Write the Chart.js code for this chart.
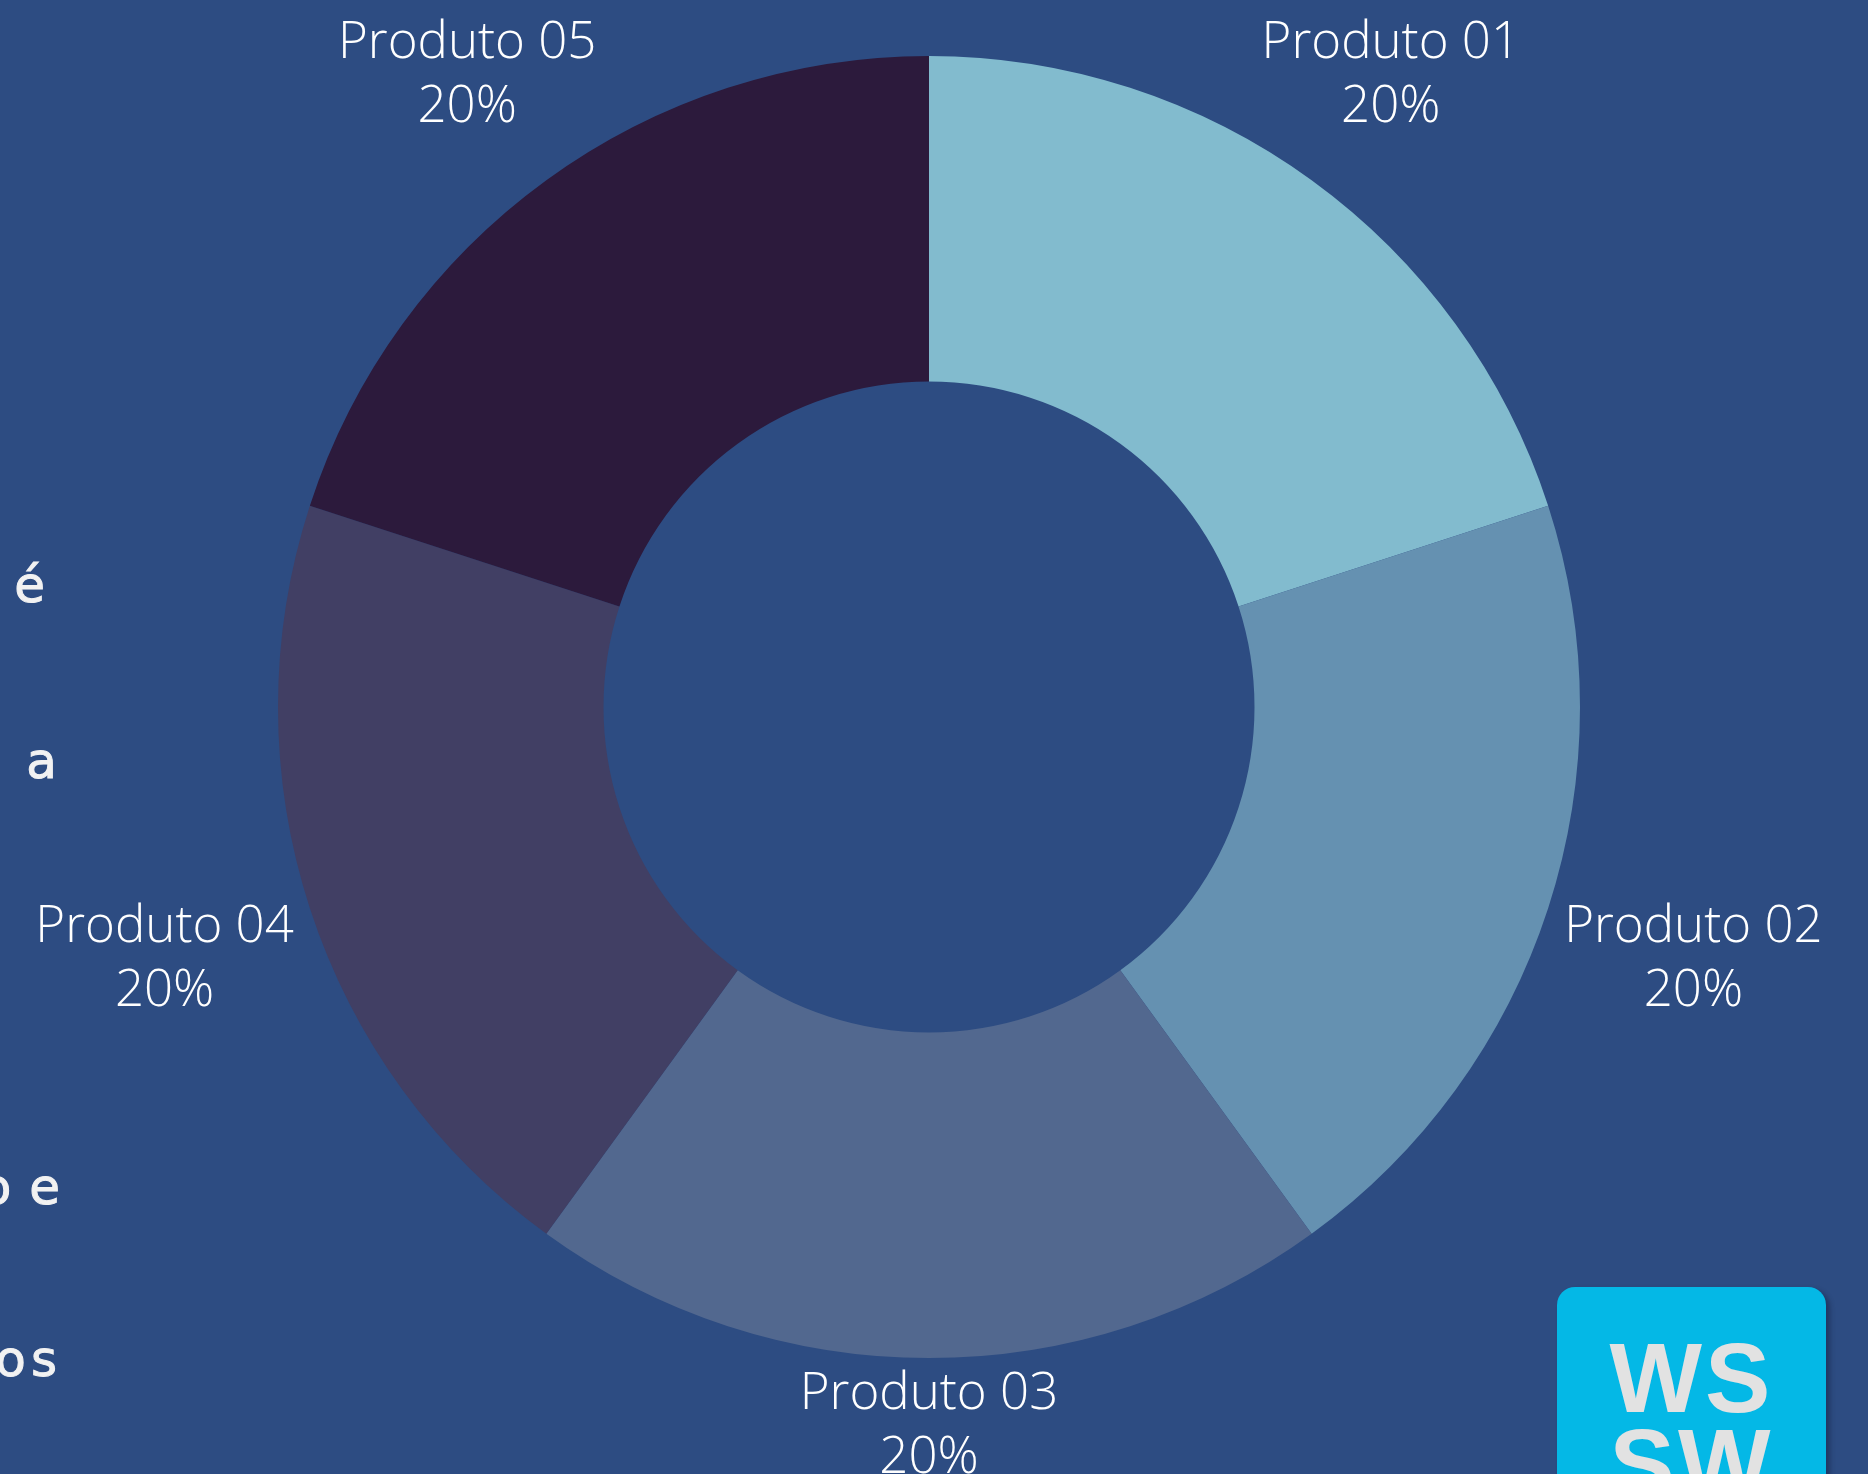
<!DOCTYPE html>
<html>
<head>
<meta charset="utf-8">
<script src="https://cdn.jsdelivr.net/npm/chart.js@4.4.0/dist/chart.umd.min.js"></script>
<style>
  html, body { margin: 0; padding: 0; background: #2d4c82; overflow: hidden; }
  #wrap { position: relative; width: 1868px; height: 1474px; overflow: hidden; }
  #grafico { position: absolute; left: 0; top: 0; }
  .frag { position: absolute; text-align: right; color: #f2f2f2; width: 400px;
          font-family: 'DejaVu Sans', sans-serif; font-weight: normal; font-size: 50px; letter-spacing: 5px;
          word-spacing: -8px; line-height: 1; -webkit-text-stroke: 1px #f2f2f2; }
  #logo { position: absolute; left: 1557px; top: 1287px; width: 269px; height: 260px; background: #04b8e6;
          border-radius: 18px; box-shadow: 4px 3px 5px rgba(20, 30, 60, 0.45); text-align: center; }
  #logo span { display: block; font-family: 'Liberation Sans', Arial, sans-serif; font-weight: bold; font-size: 98px;
               line-height: 86px; letter-spacing: 3px; color: #e2e2e2; }
</style>
</head>
<body>
<div id="wrap">
  <canvas id="grafico" width="1868" height="1474"></canvas>
  <div class="frag" style="top:560px; left:-350px">é</div>
  <div class="frag" style="top:736px; left:-338px">a</div>
  <div class="frag" style="top:1162px; left:-335px">o e</div>
  <div class="frag" style="top:1334px; left:-338px">os</div>
  <div id="logo"><span style="margin-top:48px">WS</span><span>SW</span></div>
</div>
<script>
var _labels = ['Produto 01', 'Produto 02', 'Produto 03', 'Produto 04', 'Produto 05'];
var _values = [20, 20, 20, 20, 20];
var _cores = ['#82bbce', '#6591b1', '#52688f', '#413f64', '#2c1a3c'];

// rotulos fora do anel: nome + percentual
var rotulosFora = {
    id: 'rotulosFora',
    afterDatasetsDraw: function (chart) {
        var ctx = chart.ctx;
        var meta = chart.getDatasetMeta(0);
        var total = _values.reduce(function (a, b) { return a + b; }, 0);
        ctx.save();
        ctx.fillStyle = '#ffffff';
        ctx.textAlign = 'center';
        ctx.textBaseline = 'alphabetic';
        ctx.font = '300 51px "Open Sans"';
        meta.data.forEach(function (arc, i) {
            var p = arc.getProps(['x', 'y', 'startAngle', 'endAngle', 'outerRadius'], true);
            var meio = (p.startAngle + p.endAngle) / 2;
            var c = Math.cos(meio), s = Math.sin(meio);
            // distancia ate o centro da caixa do rotulo (mais larga que alta)
            var r = p.outerRadius - 3 + 142 * Math.abs(c) + 67 * Math.abs(s);
            var cx = p.x + c * r;
            var cy = p.y + s * r;
            cy = Math.min(cy, chart.height - 47); // nao deixar sair por baixo
            var pct = Math.round(_values[i] / total * 100) + '%';
            ctx.fillText(_labels[i], cx, cy - 13.5);
            ctx.fillText(pct, cx, cy + 50.5);
        });
        ctx.restore();
    }
};

var ctx = document.getElementById('grafico').getContext('2d');
var _myChart = new Chart(ctx, {
    type: 'doughnut',
    data: {
        labels: _labels,
        datasets: [{
            data: _values,
            backgroundColor: _cores,
            borderWidth: 0
        }]
    },
    options: {
        responsive: false,
        animation: false,
        cutout: '50%',
        layout: { padding: { top: 56, bottom: 116, left: 278, right: 288 } },
        plugins: {
            legend: { display: false },
            tooltip: { enabled: false }
        }
    },
    plugins: [rotulosFora]
});
</script>
</body>
</html>
